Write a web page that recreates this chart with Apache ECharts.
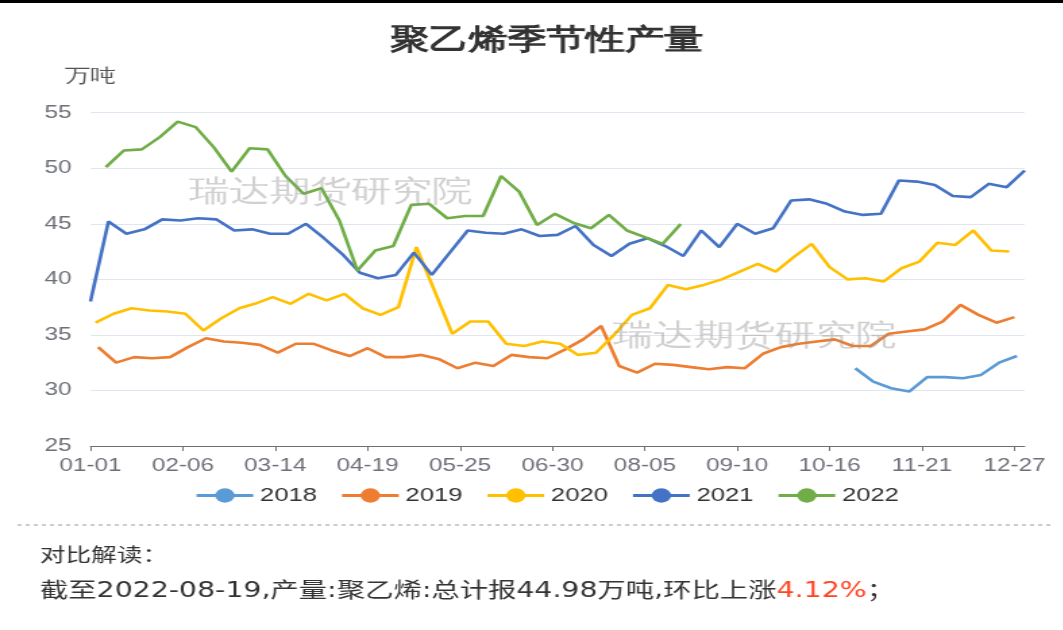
<!DOCTYPE html>
<html>
<head>
<meta charset="utf-8">
<title>聚乙烯季节性产量</title>
<script src="https://cdn.jsdelivr.net/npm/echarts@6/dist/echarts.min.js"></script>
<style>
  html, body { margin: 0; padding: 0; overflow: hidden; background: #fff; }
  /* the source picture is stretched sideways, so draw narrow and stretch */
  #main { width: 810px; height: 630px; transform: scaleX(1.35); transform-origin: 0 0; }
</style>
</head>
<body>
<div id="main"></div>
<script>
var years = ['2018', '2019', '2020', '2021', '2022'];
var colors = ['#5B9BD5', '#ED7D31', '#FFC000', '#4472C4', '#70AD47'];
// first weekly report date of each year, one value every 7 days after it
var starts = ['2018-10-26', '2019-01-04', '2020-01-03', '2021-01-01', '2022-01-07'];

var v2018 = [32.0, 30.8, 30.2, 29.9, 31.2, 31.2, 31.1, 31.4, 32.5, 33.1];
var v2019 = [33.9, 32.5, 33.0, 32.9, 33.0, 33.9, 34.7, 34.4, 34.3, 34.1,
             33.4, 34.2, 34.2, 33.6, 33.1, 33.8, 33.0, 33.0, 33.2, 32.8,
             32.0, 32.5, 32.2, 33.2, 33.0, 32.9, 33.7, 34.6, 35.8, 32.2,
             31.6, 32.4, 32.3, 32.1, 31.9, 32.1, 32.0, 33.3, 33.9, 34.2,
             34.4, 34.6, 34.0, 34.0, 35.1, 35.3, 35.5, 36.2, 37.7, 36.8,
             36.1, 36.6];
var v2020 = [36.1, 36.9, 37.4, 37.2, 37.1, 36.9, 35.4, 36.5, 37.4, 37.8,
             38.4, 37.8, 38.7, 38.1, 38.7, 37.4, 36.8, 37.5, 42.9, 39.0,
             35.1, 36.2, 36.2, 34.2, 34.0, 34.4, 34.2, 33.2, 33.4, 35.0,
             36.8, 37.4, 39.5, 39.1, 39.5, 40.0, 40.7, 41.4, 40.7, 42.0,
             43.2, 41.1, 40.0, 40.1, 39.8, 41.0, 41.6, 43.3, 43.1, 44.4,
             42.6, 42.5];
var v2021 = [38.0, 45.2, 44.1, 44.5, 45.4, 45.3, 45.5, 45.4, 44.4, 44.5,
             44.1, 44.1, 45.0, 43.7, 42.3, 40.6, 40.1, 40.4, 42.4, 40.4,
             42.4, 44.4, 44.2, 44.1, 44.5, 43.9, 44.0, 44.8, 43.1, 42.1,
             43.2, 43.7, 43.0, 42.1, 44.4, 42.9, 45.0, 44.1, 44.6, 47.1,
             47.2, 46.8, 46.1, 45.8, 45.9, 48.9, 48.8, 48.5, 47.5, 47.4,
             48.6, 48.3, 49.8];
var v2022 = [50.1, 51.6, 51.7, 52.8, 54.2, 53.7, 51.9, 49.7, 51.8, 51.7,
             49.3, 47.7, 48.2, 45.3, 40.8, 42.6, 43.0, 46.7, 46.8, 45.5,
             45.7, 45.7, 49.3, 47.9, 44.9, 45.9, 45.1, 44.6, 45.8, 44.4,
             43.8, 43.2, 44.98];
var values = [v2018, v2019, v2020, v2021, v2022];

function pad(n) { return (n < 10 ? '0' : '') + n; }
function mmdd(d) { return pad(d.getMonth() + 1) + '-' + pad(d.getDate()); }

// x categories: every day of a normal year, MM-DD
var days = [];
for (var d = new Date(2019, 0, 1); d.getFullYear() == 2019; d.setDate(d.getDate() + 1)) {
  days.push(mmdd(d));
}

function buildData(start, vals) {
  var p = start.split('-');
  var arr = [];
  for (var i = 0; i < days.length; i++) arr.push(null);
  for (var k = 0; k < vals.length; k++) {
    var dt = new Date(+p[0], +p[1] - 1, +p[2] + 7 * k);
    var idx = days.indexOf(mmdd(dt));
    if (idx >= 0) arr[idx] = vals[k];
  }
  return arr;
}

var series = [];
for (var i = 0; i < years.length; i++) {
  series.push({
    name: years[i],
    type: 'line',
    symbol: 'circle',
    showSymbol: false,
    connectNulls: true,
    color: colors[i],
    lineStyle: { width: 2.6 },
    data: buildData(starts[i], values[i])
  });
}

var noteFont = '"DejaVu Sans", "Noto Sans CJK SC", sans-serif';

var option = {
  animation: false,
  title: {
    text: '聚乙烯季节性产量',
    left: 'center',
    top: 21,
    textStyle: { fontSize: 29, fontWeight: 'bold', color: '#333' }
  },
  legend: {
    data: years,
    left: 'center',
    top: 481,
    itemWidth: 42,
    itemHeight: 18,
    itemGap: 17,
    lineStyle: { width: 3 },
    textStyle: { fontSize: 19, color: '#333' }
  },
  grid: { left: 67, right: 51, top: 112.7, bottom: 184 },
  xAxis: {
    type: 'category',
    boundaryGap: false,
    data: days,
    axisLine: { lineStyle: { color: '#6E7079' } },
    axisTick: { interval: 35 },
    axisLabel: { interval: 35, fontSize: 18, color: '#6E7079', margin: 11 }
  },
  yAxis: {
    type: 'value',
    min: 25,
    max: 55,
    interval: 5,
    name: '万吨',
    nameGap: 26,
    nameTextStyle: { fontSize: 19, color: '#555' },
    axisLabel: { fontSize: 18, color: '#6E7079', margin: 14 },
    splitLine: { lineStyle: { color: '#E0E6F1' } }
  },
  graphic: [
    { type: 'rect', shape: { x: 0, y: 0, width: 810, height: 3 }, style: { fill: '#000' } },
    { type: 'text', x: 139.5, y: 193, z: 100, silent: true,
      style: { text: '瑞达期货研究院', fontSize: 30, fill: 'rgba(150,150,150,0.45)', verticalAlign: 'middle' } },
    { type: 'text', x: 454, y: 337, z: 100, silent: true,
      style: { text: '瑞达期货研究院', fontSize: 30, fill: 'rgba(150,150,150,0.45)', verticalAlign: 'middle' } },
    { type: 'line', shape: { x1: 13, y1: 525, x2: 781, y2: 525 },
      style: { stroke: '#999', lineWidth: 1, lineDash: [3, 3] } },
    { type: 'text', x: 29.6, y: 555,
      style: { text: '对比解读：', fontSize: 19, fontFamily: '"Noto Sans CJK SC", sans-serif',
               fill: '#333', verticalAlign: 'middle' } },
    { type: 'text', x: 29.6, y: 592,
      style: {
        text: '{a|截至2022-08-19,产量:聚乙烯:总计报44.98万吨,环比上涨}{b|4.12%}{a|；}',
        verticalAlign: 'middle',
        rich: {
          a: { fontSize: 21, fontFamily: noteFont, fill: '#333' },
          b: { fontSize: 21, fontFamily: noteFont, fill: '#ff4422' }
        }
      } }
  ],
  series: series
};

var myChart = echarts.init(document.getElementById('main'));
myChart.setOption(option);
</script>
</body>
</html>
